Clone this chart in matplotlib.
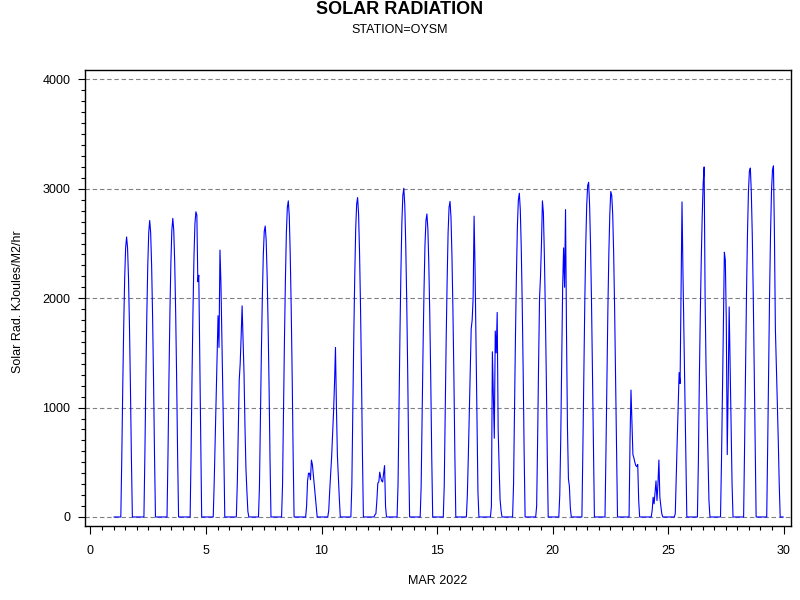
import numpy as np
import matplotlib.pyplot as plt
from matplotlib.ticker import MultipleLocator

plt.rcParams['font.family'] = ['Liberation Sans', 'DejaVu Sans']

# hourly solar radiation, March 2022, station OYSM
# each list holds the readings from 07:30 to 19:30, the other hours are 0
days = list(range(1, 30))
first_hour = 7

d01 = [0, 540, 1180, 1740, 2180, 2460, 2560, 2460, 2180, 1740, 1180, 540, 0]
d02 = [0, 570, 1250, 1840, 2300, 2600, 2710, 2600, 2300, 1840, 1250, 570, 0]
d03 = [0, 570, 1260, 1860, 2320, 2620, 2730, 2620, 2320, 1860, 1260, 570, 0]
d04 = [0, 590, 1300, 1900, 2380, 2680, 2790, 2760, 2150, 2210, 1470, 700, 0]
d05 = [0, 310, 690, 1060, 1430, 1840, 1550, 2440, 2140, 1630, 1120, 610, 0]
d06 = [0, 300, 800, 1250, 1400, 1650, 1930, 1620, 1310, 820, 440, 230, 50]
d07 = [270, 880, 1490, 2000, 2390, 2610, 2660, 2530, 2210, 1760, 1200, 530, 0]
d08 = [290, 950, 1620, 2170, 2600, 2830, 2890, 2750, 2400, 1910, 1300, 580, 0]
d09 = [0, 100, 330, 400, 400, 340, 520, 480, 390, 290, 190, 80, 0]
d10 = [60, 240, 390, 550, 760, 960, 1220, 1550, 1000, 560, 360, 170, 0]
d11 = [290, 960, 1640, 2190, 2630, 2860, 2920, 2770, 2420, 1930, 1310, 580, 0]
d12 = [20, 30, 150, 310, 320, 410, 360, 330, 320, 400, 470, 100, 0]
d13 = [300, 990, 1680, 2250, 2700, 2940, 3005, 2850, 2490, 1980, 1350, 600, 0]
d14 = [280, 910, 1550, 2080, 2490, 2710, 2770, 2630, 2300, 1830, 1250, 550, 0]
d15 = [290, 950, 1620, 2160, 2600, 2830, 2885, 2740, 2390, 1900, 1300, 580, 0]
d16 = [200, 550, 950, 1350, 1720, 1800, 2000, 2750, 2270, 1590, 910, 230, 0]
d17 = [0, 100, 1510, 1100, 720, 1700, 1500, 1870, 800, 460, 160, 60, 0]
d18 = [300, 980, 1660, 2220, 2660, 2900, 2960, 2810, 2460, 1950, 1330, 590, 0]
d19 = [100, 700, 1400, 2000, 2200, 2500, 2890, 2780, 2400, 1900, 1300, 580, 0]
d20 = [200, 700, 1400, 2100, 2460, 2100, 2810, 1700, 820, 350, 280, 80, 0]
d21 = [610, 1320, 1960, 2480, 2850, 3030, 3060, 2850, 2480, 1960, 1320, 610, 0]
d22 = [600, 1280, 1900, 2410, 2770, 2975, 2940, 2770, 2410, 1900, 1280, 600, 0]
d23 = [0, 700, 1160, 850, 570, 540, 500, 470, 460, 480, 150, 0, 0]
d24 = [60, 180, 120, 220, 330, 150, 300, 520, 180, 100, 30, 0, 0]
d25 = [30, 380, 690, 1010, 1320, 1220, 2100, 2880, 2230, 1670, 1110, 560, 0]
d26 = [500, 1250, 1850, 2350, 2750, 3050, 3200, 2000, 1350, 950, 550, 150, 0]
d27 = [500, 1100, 1750, 2420, 2350, 1800, 570, 1200, 1920, 1400, 850, 300, 0]
d28 = [640, 1370, 2040, 2580, 2970, 3160, 3190, 2970, 2580, 2040, 1370, 640, 0]
d29 = [640, 1380, 2050, 2600, 2990, 3170, 3210, 2600, 1720, 1400, 1050, 700, 300]

daylight = [d01, d02, d03, d04, d05, d06, d07, d08, d09, d10, d11, d12, d13, d14,
            d15, d16, d17, d18, d19, d20, d21, d22, d23, d24, d25, d26, d27, d28, d29]

times = []
values = []
for day, readings in zip(days, daylight):
    hourly = np.zeros(24)
    hourly[first_hour:first_hour + len(readings)] = readings
    times.extend(day + (np.arange(24) + 0.5) / 24)
    values.extend(hourly)

fig = plt.figure(figsize=(8, 6), dpi=100)
ax = fig.add_axes([0.1059, 0.1238, 0.8825, 0.7595])

ax.plot(times, values, color='#0000ff', lw=0.8)

ax.set_xlim(-0.25, 30.31)
ax.set_ylim(-80, 4086)

ax.xaxis.set_major_locator(MultipleLocator(5))
ax.xaxis.set_minor_locator(MultipleLocator(0.5))
ax.yaxis.set_major_locator(MultipleLocator(1000))
ax.yaxis.set_minor_locator(MultipleLocator(100))

ax.grid(axis='y', which='major', color='#808080', lw=0.8, linestyle=(0, (4, 2.5)))
ax.set_axisbelow(True)

ax.tick_params(axis='x', which='major', length=6, width=0.8, pad=8, labelsize=9)
ax.tick_params(axis='x', which='minor', length=3, width=0.8)
ax.tick_params(axis='y', which='major', length=5.4, width=0.8, pad=5, labelsize=9)
ax.tick_params(axis='y', which='minor', length=2.7, width=0.8)
for spine in ax.spines.values():
    spine.set_linewidth(1.0)

fig.text(0.5, 1 - 10 / 600, 'SOLAR RADIATION', ha='center', va='center',
         fontsize=13, fontweight='bold')
fig.text(0.5, 1 - 30 / 600, 'STATION=OYSM', ha='center', va='center', fontsize=9)
fig.text(437.7 / 800, 1 - 581 / 600, 'MAR 2022', ha='center', va='center', fontsize=9)
fig.text(18 / 800, 0.5 - 2 / 600, 'Solar Rad. KJoules/M2/hr', ha='center', va='center',
         rotation=90, fontsize=9)

fig.savefig('out.png', dpi=100)
